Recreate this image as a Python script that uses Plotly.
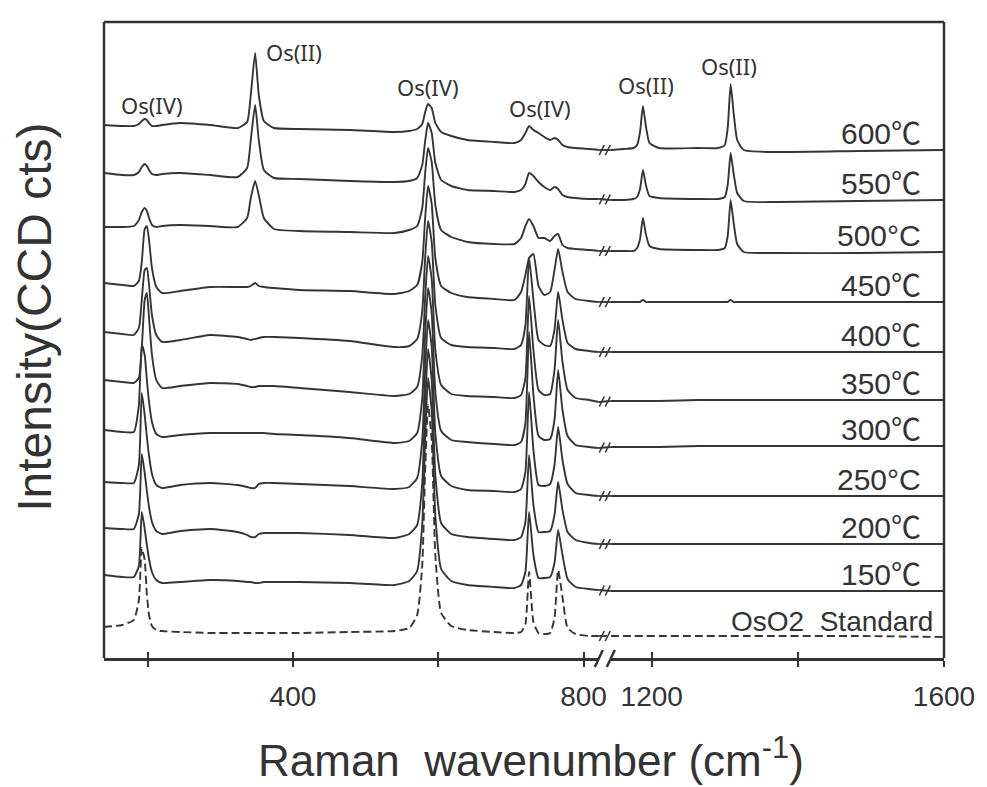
import plotly.graph_objects as go

# Raman shift (cm-1) sampled left and right of the axis break
wn_low = [140, 165, 181, 188, 192, 196, 199, 202, 206, 212,
          220, 245, 286, 324, 337, 342, 348, 353, 360, 374,
          409, 478, 540, 560, 571, 578, 582, 586, 591, 596,
          604, 618, 640, 677, 705, 714, 720, 725, 731, 738,
          746, 754, 760, 765, 771, 778, 789, 808, 821]
wn_high = [1144, 1162, 1175, 1180, 1184, 1188, 1192, 1197, 1210, 1264,
           1291, 1300, 1304, 1308, 1312, 1317, 1326, 1373, 1483, 1600]

# stacked intensities (CCD cts, offset per spectrum)
t600_low = [533, 532, 532, 534, 537, 539, 538, 535, 532, 532,
            533, 535, 533, 530, 536, 563, 605, 563, 537, 530,
            529, 528, 526, 527, 529, 534, 546, 554, 550, 535,
            526, 522, 518, 516, 515, 518, 525, 532, 528, 525,
            521, 518, 520, 518, 513, 511, 510, 509, 508]
t600_high = [508, 509, 510, 513, 526, 552, 532, 515, 510, 510,
             510, 513, 530, 574, 546, 518, 508, 506, 507, 508]

t550_low = [485, 483, 483, 486, 491, 494, 492, 488, 484, 483,
            484, 485, 483, 481, 490, 518, 553, 518, 488, 480,
            479, 477, 476, 477, 480, 493, 517, 535, 525, 495,
            478, 472, 468, 467, 466, 468, 474, 485, 482, 476,
            471, 468, 471, 469, 463, 461, 460, 459, 459]
t550_high = [458, 458, 459, 461, 469, 488, 473, 462, 460, 459,
             459, 461, 473, 505, 485, 465, 457, 456, 457, 458]

t500_low = [431, 431, 432, 438, 446, 450, 447, 440, 433, 431,
            432, 433, 432, 431, 440, 460, 477, 463, 440, 429,
            427, 426, 425, 428, 432, 450, 485, 510, 496, 453,
            428, 421, 416, 414, 414, 420, 432, 439, 432, 420,
            420, 417, 422, 424, 413, 410, 409, 408, 407]
t500_high = [407, 407, 407, 410, 419, 440, 424, 412, 409, 408,
             408, 410, 422, 458, 436, 414, 406, 405, 405, 406]

t450_low = [375, 373, 372, 377, 396, 429, 432, 418, 390, 371,
            365, 367, 371, 371, 371, 372, 375, 372, 371, 370,
            368, 367, 364, 367, 373, 396, 440, 472, 454, 400,
            372, 365, 361, 359, 358, 366, 383, 400, 404, 372,
            363, 366, 388, 409, 386, 366, 359, 357, 356]
t450_high = [356, 356, 356, 356, 356, 358, 356, 356, 356, 356,
             356, 356, 356, 358, 356, 356, 356, 356, 356, 356]

t400_low = [326, 324, 323, 330, 358, 388, 390, 373, 343, 323,
            316, 318, 323, 321, 319, 318, 319, 320, 321, 321,
            320, 317, 311, 312, 319, 347, 400, 437, 416, 353,
            320, 313, 311, 310, 309, 313, 333, 400, 358, 318,
            313, 312, 328, 366, 338, 315, 309, 307, 306]
t400_high = [306, 306, 306, 306, 306, 306, 306, 306, 306, 306,
             306, 306, 306, 306, 306, 306, 306, 306, 306, 306]

t350_low = [278, 276, 275, 280, 310, 358, 365, 340, 303, 278,
            270, 272, 275, 274, 272, 271, 271, 272, 272, 272,
            270, 266, 262, 264, 271, 302, 360, 402, 379, 308,
            273, 264, 262, 261, 260, 263, 280, 362, 308, 268,
            263, 264, 288, 338, 296, 268, 260, 258, 256]
t350_high = [257, 257, 257, 257, 257, 257, 257, 257, 257, 258,
             258, 258, 258, 258, 258, 258, 258, 258, 258, 258]

t300_low = [228, 226, 226, 253, 313, 303, 278, 256, 236, 224,
            221, 223, 225, 225, 225, 225, 225, 225, 225, 224,
            223, 220, 215, 217, 225, 260, 324, 370, 345, 266,
            227, 218, 216, 214, 213, 216, 235, 326, 263, 222,
            218, 219, 238, 288, 248, 222, 213, 211, 210]
t300_high = [211, 211, 211, 211, 211, 211, 211, 211, 211, 212,
             212, 212, 212, 212, 212, 212, 212, 212, 212, 212]

t250_low = [176, 175, 175, 193, 265, 243, 221, 202, 184, 173,
            170, 173, 175, 173, 171, 170, 170, 174, 175, 175,
            174, 172, 169, 171, 180, 218, 288, 338, 311, 225,
            182, 172, 168, 167, 166, 169, 186, 266, 208, 173,
            172, 174, 193, 231, 198, 174, 165, 163, 162]
t250_high = [162, 162, 162, 162, 162, 162, 162, 162, 162, 162,
             162, 162, 162, 162, 162, 162, 162, 162, 162, 162]

t200_low = [130, 129, 129, 144, 204, 185, 167, 151, 136, 127,
            124, 127, 129, 126, 123, 121, 121, 124, 125, 125,
            125, 123, 120, 124, 133, 175, 254, 309, 278, 183,
            135, 124, 121, 119, 118, 121, 136, 203, 153, 126,
            126, 127, 143, 176, 148, 126, 118, 115, 114]
t200_high = [114, 114, 114, 114, 114, 114, 114, 114, 114, 114,
             114, 114, 114, 114, 114, 114, 114, 114, 114, 114]

t150_low = [83, 81, 81, 92, 146, 129, 113, 99, 86, 78,
            75, 76, 78, 77, 76, 76, 75, 75, 76, 76,
            76, 75, 73, 77, 87, 134, 220, 280, 247, 142,
            89, 77, 73, 71, 70, 73, 86, 146, 103, 80,
            80, 81, 95, 128, 103, 79, 71, 69, 68]
t150_high = [67, 67, 67, 67, 67, 67, 67, 67, 67, 67,
             67, 67, 67, 67, 67, 67, 67, 67, 67, 67]

std_low = [31, 33, 38, 58, 110, 98, 63, 43, 32, 28,
           27, 26, 25, 25, 25, 25, 25, 25, 25, 25,
           25, 26, 27, 30, 43, 93, 188, 253, 218, 103,
           45, 32, 28, 26, 25, 26, 34, 86, 36, 25,
           24, 25, 40, 88, 61, 30, 24, 22, 22]
std_high = [22, 22, 22, 22, 22, 22, 22, 22, 22, 22,
            22, 22, 22, 22, 22, 22, 22, 22, 22, 21]

names = ["600℃", "550℃", "500°C", "450℃", "400℃", "350℃",
         "300℃", "250°C", "200℃", "150℃", "OsO2\u00a0 Standard"]
lows = [t600_low, t550_low, t500_low, t450_low, t400_low, t350_low,
        t300_low, t250_low, t200_low, t150_low, std_low]
highs = [t600_high, t550_high, t500_high, t450_high, t400_high, t350_high,
         t300_high, t250_high, t200_high, t150_high, std_high]

# peak labels: text, axis, wavenumber, intensity
peak_text = ["Os(IV)", "Os(II)", "Os(IV)", "Os(IV)", "Os(II)", "Os(II)"]
peak_axis = ["x", "x", "x", "x", "x2", "x2"]
peak_wn = [206, 402, 586, 740, 1192, 1306]
peak_int = [553, 606, 571, 550, 573, 592]

INK = "#333333"
LINE = "#353535"
SANS = "Liberation Sans, Arial, sans-serif"
d1 = 496 / 842   # end of low-wavenumber panel
d2 = 508 / 842   # start of high-wavenumber panel
dmid = (d1 + d2) / 2

fig = go.Figure()
for name, lo, hi in zip(names, lows, highs):
    dash = "8px,4px" if "Standard" in name else "solid"
    style = dict(color=LINE, width=1.9, dash=dash, shape="spline", smoothing=0.5)
    fig.add_trace(go.Scatter(x=wn_low, y=lo, mode="lines", line=style, name=name,
                             xaxis="x", yaxis="y", hoverinfo="skip"))
    fig.add_trace(go.Scatter(x=wn_high, y=hi, mode="lines", line=style, name=name,
                             xaxis="x2", yaxis="y", hoverinfo="skip"))
# empty traces so the tick-overlay axes get drawn
fig.add_trace(go.Scatter(x=[], y=[], xaxis="x3", yaxis="y"))
fig.add_trace(go.Scatter(x=[], y=[], xaxis="x4", yaxis="y"))

shapes = []
annotations = []
frame = dict(color=INK, width=2.5)
shapes.append(dict(type="line", xref="paper", yref="paper", x0=0, x1=1, y0=1, y1=1, line=frame))
shapes.append(dict(type="line", xref="paper", yref="paper", x0=0, x1=0, y0=0, y1=1, line=frame))
shapes.append(dict(type="line", xref="paper", yref="paper", x0=1, x1=1, y0=0, y1=1, line=frame))

# axis break marks on the x axis
for xa in [d1, d2]:
    shapes.append(dict(type="line", xref="paper", yref="paper", xsizemode="pixel", ysizemode="pixel",
                       xanchor=xa, yanchor=0, x0=-4, x1=4, y0=-9, y1=8, line=dict(color=INK, width=2.5)))

for name, lo, hi in zip(names, lows, highs):
    dash = "8px,4px" if "Standard" in name else "solid"
    shapes.append(dict(type="line", xref="paper", yref="y", x0=d1, x1=d2, y0=lo[-1], y1=hi[0],
                       line=dict(color=LINE, width=1.9, dash=dash)))
    yb = (lo[-1] + hi[0]) / 2
    for off in [-3, 3]:
        shapes.append(dict(type="line", xref="paper", yref="y", xsizemode="pixel", ysizemode="pixel",
                           xanchor=dmid, yanchor=yb, x0=off - 2.5, x1=off + 2.5, y0=-5, y1=5,
                           line=dict(color=LINE, width=1.6)))
    is_std = "Standard" in name
    annotations.append(dict(text=name, xref="paper", x=0.989 if is_std else 0.975, xanchor="right",
                            yref="y", y=hi[-1], yanchor="bottom", yshift=-2, showarrow=False,
                            font=dict(family="Liberation Sans, Noto Sans CJK KR", size=28 if is_std else 30,
                                      color=INK)))

for txt, ax, xv, yv in zip(peak_text, peak_axis, peak_wn, peak_int):
    annotations.append(dict(text=txt, xref=ax, x=xv, yref="y", y=yv, showarrow=False,
                            xanchor="center", yanchor="middle",
                            font=dict(family="Noto Sans", size=22, color=INK)))

annotations.append(dict(text="Raman\u00a0 wavenumber\u00a0(cm<sup>-1</sup>)", xref="paper", x=0.508,
                        yref="paper", y=-0.156, xanchor="center", yanchor="middle", showarrow=False,
                        font=dict(family=SANS, size=44, color=INK)))
annotations.append(dict(text="Intensity(CCD cts)", xref="paper", x=-0.082, yref="paper", y=0.535,
                        textangle=-90, xanchor="center", yanchor="middle", showarrow=False,
                        font=dict(family=SANS, size=48, color=INK)))

tick_font = dict(family=SANS, size=28, color=INK)
low_ticks = [200, 400, 600, 800]
low_text = ["", "400", "", "800"]
high_ticks = [1200, 1400, 1600]
high_text = ["1200", "", "1600"]

base_axis = dict(showgrid=False, zeroline=False, showline=True, linecolor=INK, linewidth=2.5,
                 ticks="outside", ticklen=6, tickwidth=2, tickcolor=INK, tickfont=tick_font,
                 tickmode="array", ticklabelstandoff=6)
over_axis = dict(showgrid=False, zeroline=False, showline=False, ticks="inside", ticklen=6,
                 tickwidth=2, tickcolor=INK, showticklabels=False, tickmode="array")

# the page adds an 8 px body margin, so the figure is 8 px smaller
fig.update_layout(
    width=979, height=779,
    margin=dict(l=96, r=41, t=14, b=129),
    plot_bgcolor="white", paper_bgcolor="white",
    showlegend=False,
    xaxis=dict(domain=[0, d1], range=[140, 821], tickvals=low_ticks, ticktext=low_text,
               anchor="y", **base_axis),
    xaxis2=dict(domain=[d2, 1], range=[1144, 1600], tickvals=high_ticks, ticktext=high_text,
                anchor="y", **base_axis),
    xaxis3=dict(overlaying="x", anchor="y", range=[140, 821], tickvals=low_ticks, **over_axis),
    xaxis4=dict(overlaying="x2", anchor="y", range=[1144, 1600], tickvals=high_ticks, **over_axis),
    yaxis=dict(range=[0, 636], visible=False, domain=[0, 1]),
    shapes=shapes,
    annotations=annotations,
)

fig.write_html("out.html")
